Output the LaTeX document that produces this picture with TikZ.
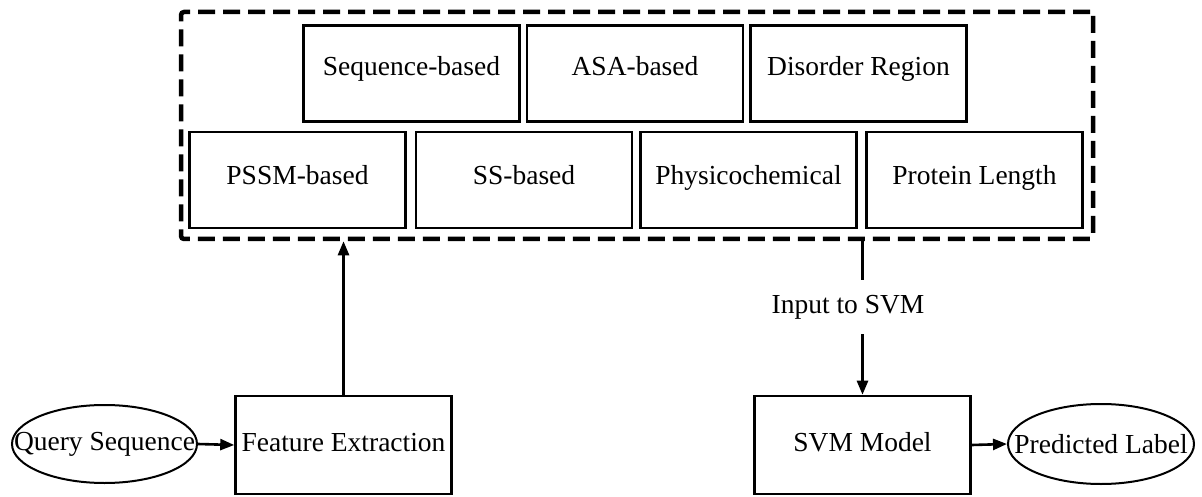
\documentclass[tikz,border=0pt]{standalone}
\usepackage{fontspec}
\setmainfont{Liberation Serif}
\usetikzlibrary{shapes.geometric,arrows.meta}
\newcommand\liftby[2]{\raisebox{#1}[\height][\depth]{#2}}
\begin{document}
\begin{tikzpicture}[x=1pt,y=-1pt,
  every node/.style={font=\fontsize{27.5}{30}\selectfont},
  box/.style={draw,line width=2.6pt,minimum width=216pt,minimum height=96pt,inner sep=0pt,text height=19pt,text depth=6pt},
  ell/.style={draw,ellipse,line width=2pt,inner sep=0pt},
  dbox/.style={draw,line width=4.5pt,dash pattern=on 17pt off 8pt,rounded corners=3pt,minimum width=912pt,minimum height=227pt,inner sep=0pt},
  conn/.style={line width=2.6pt},
  arr/.style={line width=2.6pt,-{Triangle[length=14pt,width=11pt]}}]
\useasboundingbox (0,0) rectangle (1202,497);
% feature group
\node[dbox] (grp) at (637,125.5) {};
\node[box] (seq) at (411.5,73.5) {\liftby{4pt}{Sequence-based}};
\node[box] (asa) at (635,73.5) {\liftby{4pt}{ASA-based}};
\node[box] (dis) at (858.5,73.5) {\liftby{4pt}{Disorder Region}};
\node[box] (pssm) at (297.5,180) {\liftby{2pt}{PSSM-based}};
\node[box] (ss) at (524,180) {\liftby{2pt}{SS-based}};
\node[box] (phys) at (748.5,180) {\liftby{2pt}{Physicochemical}};
\node[box] (plen) at (974.5,180) {\liftby{2pt}{Protein Length}};
% bottom flow
\node[ell,minimum width=185pt,minimum height=78pt] (q) at (104.5,444) {};
\node at (q) {Query Sequence};
\node[box,minimum height=98pt] (fe) at (343.5,445) {Feature Extraction};
\node[box,minimum height=98pt] (svm) at (862.5,445) {SVM Model};
\node[ell,minimum width=186pt,minimum height=80pt] (pl) at (1101,444) {};
\node at (pl) {Predicted Label};
\node[inner xsep=0pt,inner ysep=15pt] (lbl) at (848,307) {Input to SVM};
% connectors
\draw[arr] (q.east) -- (fe.west);
\draw[arr] (fe.north) -- (fe.north |- grp.south);
\draw[conn] (grp.south -| svm.north) -- (lbl.north -| svm.north);
\draw[arr] (lbl.south -| svm.north) -- (svm.north);
\draw[arr] (svm.east) -- (pl.west);
\end{tikzpicture}
\end{document}
